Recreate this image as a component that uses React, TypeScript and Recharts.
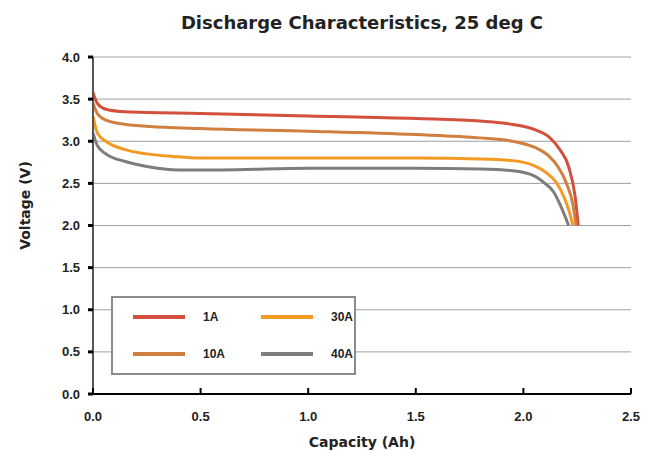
import { LineChart, Line, XAxis, YAxis, CartesianGrid, Label } from 'recharts';

const capacity1A = [0, 0.02, 0.06, 0.15, 0.5, 1.0, 1.5, 1.8, 1.95, 2.05, 2.12, 2.17, 2.21, 2.24, 2.255];
const voltage1A = [3.58, 3.45, 3.38, 3.35, 3.33, 3.3, 3.27, 3.24, 3.2, 3.14, 3.05, 2.9, 2.7, 2.35, 2.0];

const capacity10A = [0, 0.02, 0.06, 0.15, 0.5, 1.0, 1.5, 1.8, 1.95, 2.05, 2.12, 2.16, 2.2, 2.23, 2.245];
const voltage10A = [3.45, 3.33, 3.25, 3.2, 3.15, 3.12, 3.08, 3.04, 3.0, 2.93, 2.82, 2.7, 2.5, 2.25, 2.0];

const capacity30A = [0, 0.02, 0.06, 0.15, 0.25, 0.37, 0.5, 1.0, 1.5, 1.8, 1.95, 2.05, 2.11, 2.15, 2.19, 2.215, 2.23];
const voltage30A = [3.3, 3.1, 3.0, 2.9, 2.85, 2.82, 2.8, 2.8, 2.8, 2.79, 2.77, 2.71, 2.62, 2.52, 2.33, 2.15, 2.0];

const capacity40A = [0, 0.02, 0.06, 0.15, 0.25, 0.4, 0.6, 1.0, 1.5, 1.8, 1.95, 2.05, 2.1, 2.14, 2.17, 2.195, 2.21];
const voltage40A = [3.1, 2.95, 2.85, 2.76, 2.7, 2.66, 2.66, 2.68, 2.68, 2.67, 2.65, 2.59, 2.5, 2.4, 2.25, 2.1, 2.0];

const xTicks = [0, 0.5, 1.0, 1.5, 2.0, 2.5];
const yTicks = [0, 0.5, 1.0, 1.5, 2.0, 2.5, 3.0, 3.5, 4.0];

const FONT = '"Liberation Sans", sans-serif';
const TITLE_FONT = '"DejaVu Sans", sans-serif';

function zip(caps: number[], volts: number[]) {
  return caps.map((c, i) => ({ cap: c, v: volts[i] }));
}

const series = [
  { name: '1A', color: '#d2503c', data: zip(capacity1A, voltage1A) },
  { name: '10A', color: '#d07f3e', data: zip(capacity10A, voltage10A) },
  { name: '30A', color: '#f39a22', data: zip(capacity30A, voltage30A) },
  { name: '40A', color: '#7d7d7d', data: zip(capacity40A, voltage40A) },
];

// x ticks point up into the plot, so draw them ourselves
function XTick(props: any) {
  const { x, y, payload } = props;
  return (
    <g>
      <line x1={x} x2={x} y1={y - 6} y2={y} stroke="#000" strokeWidth={2} />
      <text x={x} y={y + 27} textAnchor="middle" fontSize={13} fontWeight="bold" fill="#222" fontFamily={FONT}>
        {payload.value.toFixed(1)}
      </text>
    </g>
  );
}

function YTitle(props: any) {
  const { viewBox } = props;
  const cx = 25;
  const cy = viewBox.y + viewBox.height / 2 - 20;
  return (
    <text
      x={cx}
      y={cy}
      transform={`rotate(-90, ${cx}, ${cy})`}
      textAnchor="middle"
      dominantBaseline="central"
      fontFamily={TITLE_FONT}
      fontWeight="bold"
      fontSize={14}
      fill="#222"
    >
      Voltage (V)
    </text>
  );
}

function LegendBox() {
  const order = [series[0], series[2], series[1], series[3]];
  return (
    <div
      style={{
        position: 'absolute',
        left: 111,
        top: 296,
        width: 241,
        height: 75,
        border: '2px solid #8c8c8c',
        background: '#fff',
        display: 'grid',
        gridTemplateColumns: '130px 110px',
        gridTemplateRows: '1fr 1fr',
        alignItems: 'center',
        fontFamily: FONT,
        fontWeight: 'bold',
        fontSize: 12,
        color: '#222',
      }}
    >
      {order.map((s, i) => (
        <div key={s.name} style={{ display: 'flex', alignItems: 'center', paddingLeft: i % 2 === 0 ? 20 : 18 }}>
          <span style={{ display: 'inline-block', width: 52, height: 4, background: s.color }} />
          <span style={{ marginLeft: 18 }}>{s.name}</span>
        </div>
      ))}
    </div>
  );
}

export default function App() {
  return (
    <div style={{ position: 'absolute', left: 0, top: 0, width: 646, height: 451, background: '#fff' }}>
      <LineChart width={646} height={451} margin={{ top: 57, right: 15, left: 40, bottom: 27 }}>
        <CartesianGrid vertical={false} stroke="#a0a0a0" strokeWidth={1} />
        <XAxis
          dataKey="cap"
          type="number"
          domain={[0, 2.5]}
          ticks={xTicks}
          allowDuplicatedCategory={false}
          axisLine={{ stroke: '#000', strokeWidth: 2 }}
          tickLine={false}
          tickSize={0}
          tickMargin={0}
          tick={<XTick />}
          height={30}
        >
          <Label
            value="Capacity (Ah)"
            position="insideBottom"
            offset={-23}
            style={{ fontFamily: TITLE_FONT, fontWeight: 'bold', fontSize: 14, fill: '#222' }}
          />
        </XAxis>
        <YAxis
          type="number"
          domain={[0, 4]}
          ticks={yTicks}
          width={53}
          axisLine={{ stroke: '#555', strokeWidth: 2 }}
          tickLine={{ stroke: '#000', strokeWidth: 3 }}
          tickSize={5}
          tickMargin={8}
          tickFormatter={(v: number) => v.toFixed(1)}
          tick={{ fontFamily: FONT, fontWeight: 'bold', fontSize: 13, fill: '#222' }}
        >
          <Label content={<YTitle />} />
        </YAxis>
        {series.map((s) => (
          <Line
            key={s.name}
            data={s.data}
            dataKey="v"
            name={s.name}
            type="monotone"
            stroke={s.color}
            strokeWidth={3}
            dot={false}
            isAnimationActive={false}
          />
        ))}
      </LineChart>
      <div
        style={{
          position: 'absolute',
          top: 12,
          left: 0,
          width: 724,
          textAlign: 'center',
          fontFamily: TITLE_FONT,
          fontWeight: 'bold',
          fontSize: 18,
          color: '#222',
        }}
      >
        Discharge Characteristics, 25 deg C
      </div>
      <LegendBox />
    </div>
  );
}
